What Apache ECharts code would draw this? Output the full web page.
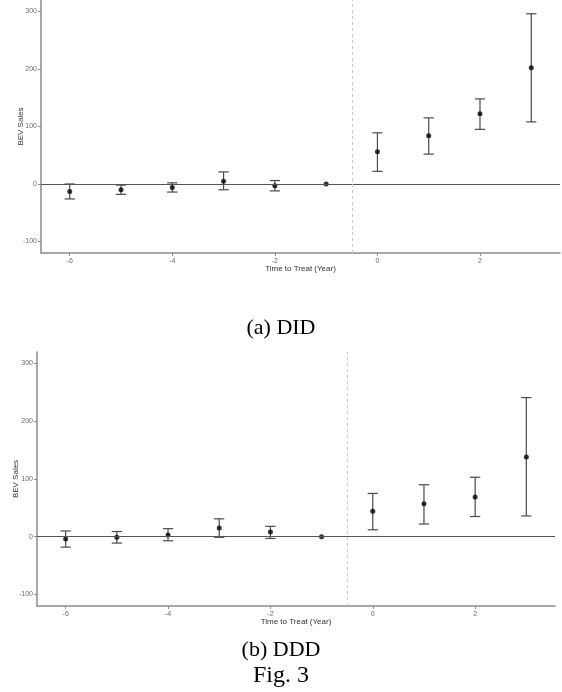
<!DOCTYPE html>
<html>
<head>
<meta charset="utf-8">
<script src="https://cdn.jsdelivr.net/npm/echarts@6/dist/echarts.min.js"></script>
<style>html,body{margin:0;padding:0;background:#fff}#c{width:562px;height:692px}</style>
</head>
<body>
<div id="c"></div>
<script>
// Data
const years = [-6, -5, -4, -3, -2, -1, 0, 1, 2, 3];
const didEst   = [-13, -10, -6, 5, -3, 0, 56, 84, 122, 202];
const didLow   = [-26, -18, -14, -10, -12, 0, 22, 52, 95, 108];
const didHigh  = [0, -2, 2, 21, 6, 0, 89, 115, 148, 296];
const dddEst   = [-4, -1, 3, 15, 8, 0, 44, 57, 69, 138];
const dddLow   = [-18, -11, -7, -1, -3, 0, 12, 22, 35, 36];
const dddHigh  = [10, 9, 14, 31, 18, 0, 75, 90, 103, 241];
const xTicks = [-6, -4, -2, 0, 2];
const yTicks = [-100, 0, 100, 200, 300];
const treatLine = -0.5;

const chart = echarts.init(document.getElementById('c'));

function ebData(lo, hi) {
  return years.map((y, i) => (y === -1 ? null : [y, lo[i], hi[i]])).filter(d => d);
}
function ptData(est) {
  return years.map((y, i) => [y, est[i]]);
}
function renderEB(params, api) {
  const x = api.value(0), lo = api.value(1), hi = api.value(2);
  const pLo = api.coord([x, lo]), pHi = api.coord([x, hi]);
  const l = api.coord([x - 0.1, lo]), r = api.coord([x + 0.1, lo]);
  const style = { stroke: '#4a4a4a', lineWidth: 1.2 };
  return {
    type: 'group',
    children: [
      { type: 'line', shape: { x1: pLo[0], y1: pLo[1], x2: pHi[0], y2: pHi[1] }, style },
      { type: 'line', shape: { x1: l[0], y1: pLo[1], x2: r[0], y2: pLo[1] }, style },
      { type: 'line', shape: { x1: l[0], y1: pHi[1], x2: r[0], y2: pHi[1] }, style }
    ]
  };
}

const axisLineStyle = { color: '#8c8c8c', width: 1.5 };
const tickLabel = { fontSize: 7, color: '#6a6a6a', fontFamily: 'Liberation Sans' };
const nameStyle = { fontSize: 8, color: '#333', fontFamily: 'Liberation Sans' };

function xAxis(gi) {
  return {
    type: 'value', gridIndex: gi, min: -6.56, max: 3.56,
    name: 'Time to Treat (Year)', nameLocation: 'middle', nameGap: 12, nameMoveOverlap: false, nameTextStyle: nameStyle,
    axisLine: { show: true, onZero: false, lineStyle: axisLineStyle },
    axisTick: { show: true, length: 3, lineStyle: { color: '#8c8c8c' }, customValues: xTicks },
    axisLabel: Object.assign({ margin: 5, customValues: xTicks }, tickLabel),
    splitLine: { show: false }
  };
}
function yAxis(gi, gap) {
  return {
    type: 'value', gridIndex: gi, min: -120, max: 320,
    name: 'BEV Sales', nameLocation: 'middle', nameGap: gap, nameRotate: 90, nameMoveOverlap: false, nameTextStyle: nameStyle,
    axisLine: { show: true, onZero: false, lineStyle: axisLineStyle },
    axisTick: { show: true, length: 3, lineStyle: { color: '#8c8c8c' }, customValues: yTicks },
    axisLabel: Object.assign({ margin: 4, customValues: yTicks }, tickLabel),
    splitLine: { show: false }
  };
}

function seriesFor(gi, est, lo, hi) {
  return [
    {
      type: 'custom', xAxisIndex: gi, yAxisIndex: gi, renderItem: renderEB,
      data: ebData(lo, hi), silent: true, z: 3
    },
    {
      type: 'scatter', xAxisIndex: gi, yAxisIndex: gi, data: ptData(est),
      symbolSize: 5, itemStyle: { color: '#000' }, z: 4, silent: true,
      markLine: {
        silent: true, symbol: 'none', label: { show: false },
        data: [
          { yAxis: 0, lineStyle: { color: '#555', width: 1.2, type: 'solid' } },
          { xAxis: treatLine, lineStyle: { color: '#c8c8c8', width: 1, type: [3, 3] } }
        ]
      }
    }
  ];
}

const serif = { fontFamily: 'Liberation Serif', fontSize: 22, fontWeight: 'normal', color: '#000' };
const serifBig = { fontFamily: 'Liberation Serif', fontSize: 24, fontWeight: 'normal', color: '#000' };

chart.setOption({
  animation: false,
  title: [
    { text: '(a) DID', left: 'center', top: 312, textStyle: serif },
    { text: '(b) DDD', left: 'center', top: 634, textStyle: serif },
    { text: 'Fig. 3', left: 'center', top: 659, textStyle: serifBig }
  ],
  grid: [
    { left: 41, top: 0, width: 519, height: 253, containLabel: false, outerBoundsMode: 'none' },
    { left: 37, top: 352, width: 518, height: 254, containLabel: false, outerBoundsMode: 'none' }
  ],
  xAxis: [xAxis(0), xAxis(1)],
  yAxis: [yAxis(0, 16), yAxis(1, 17)],
  series: [].concat(seriesFor(0, didEst, didLow, didHigh), seriesFor(1, dddEst, dddLow, dddHigh))
});
</script>
</body>
</html>
